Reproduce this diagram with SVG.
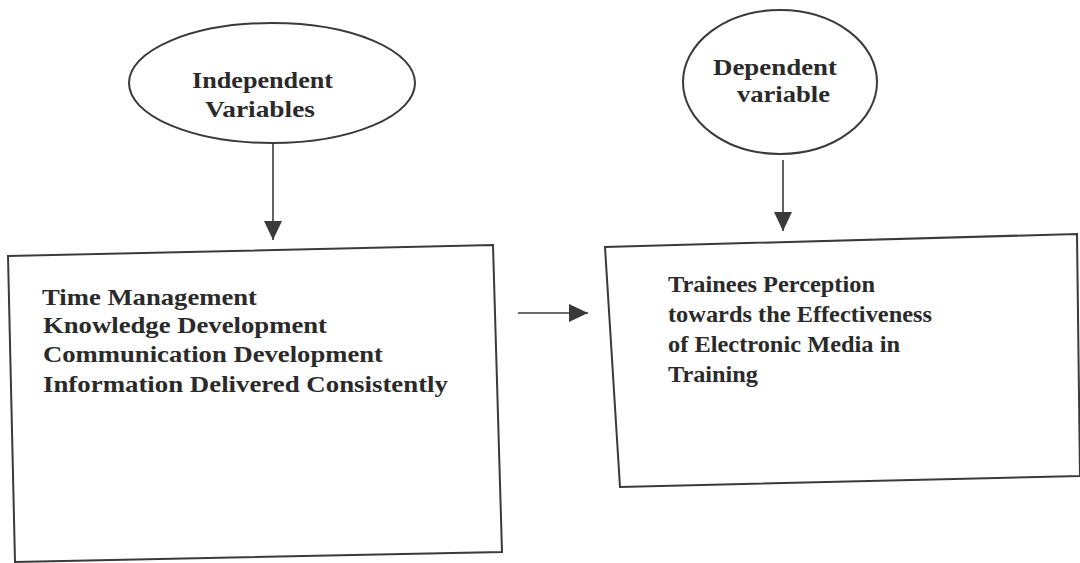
<svg xmlns="http://www.w3.org/2000/svg" width="1080" height="563" viewBox="0 0 1080 563">
<style>
.shape{fill:#fff;stroke:#3a3a3a;stroke-width:2}
.t{font-family:"Liberation Serif","Times New Roman",serif;font-weight:bold;font-size:23px;fill:#2a2a2a}
.c{stroke:#3a3a3a;stroke-width:1.6;fill:none}
</style>
<defs>
<marker id="ah" viewBox="0 0 19 18" refX="19" refY="9" markerWidth="19" markerHeight="18" markerUnits="userSpaceOnUse" orient="auto">
<path d="M0,0 L19,9 L0,18 Z" fill="#3a3a3a"/>
</marker>
</defs>
<rect width="1080" height="563" fill="#fff"/>
<g id="connectors">
<line class="c" x1="273" y1="143" x2="273" y2="240" marker-end="url(#ah)"/>
<line class="c" x1="783" y1="160" x2="783" y2="231" marker-end="url(#ah)"/>
<line class="c" x1="518" y1="313" x2="588" y2="313" marker-end="url(#ah)"/>
</g>
<g id="independent">
<ellipse class="shape" cx="272" cy="83" rx="143" ry="60"/>
<text class="t" x="192" y="88" textLength="141" lengthAdjust="spacingAndGlyphs">Independent</text>
<text class="t" x="205" y="117" textLength="110" lengthAdjust="spacingAndGlyphs">Variables</text>
</g>
<g id="dependent">
<ellipse class="shape" cx="780" cy="82" rx="97" ry="72"/>
<text class="t" x="713" y="75" textLength="124" lengthAdjust="spacingAndGlyphs">Dependent</text>
<text class="t" x="737" y="102" textLength="93" lengthAdjust="spacingAndGlyphs">variable</text>
</g>
<g id="factors">
<polygon class="shape" points="8,256 493,245 502,552 15,562"/>
<text class="t" x="42" y="305" textLength="215" lengthAdjust="spacingAndGlyphs">Time Management</text>
<text class="t" x="43" y="333" textLength="284" lengthAdjust="spacingAndGlyphs">Knowledge Development</text>
<text class="t" x="43" y="362" textLength="340" lengthAdjust="spacingAndGlyphs">Communication Development</text>
<text class="t" x="43" y="392" textLength="405" lengthAdjust="spacingAndGlyphs">Information Delivered Consistently</text>
</g>
<g id="perception">
<polygon class="shape" points="605,247 1077,234 1080,476 620,487"/>
<text class="t" x="668" y="292" textLength="207" lengthAdjust="spacingAndGlyphs">Trainees Perception</text>
<text class="t" x="668" y="322" textLength="264" lengthAdjust="spacingAndGlyphs">towards the Effectiveness</text>
<text class="t" x="668" y="352" textLength="232" lengthAdjust="spacingAndGlyphs">of Electronic Media in</text>
<text class="t" x="668" y="382" textLength="90" lengthAdjust="spacingAndGlyphs">Training</text>
</g>
</svg>
